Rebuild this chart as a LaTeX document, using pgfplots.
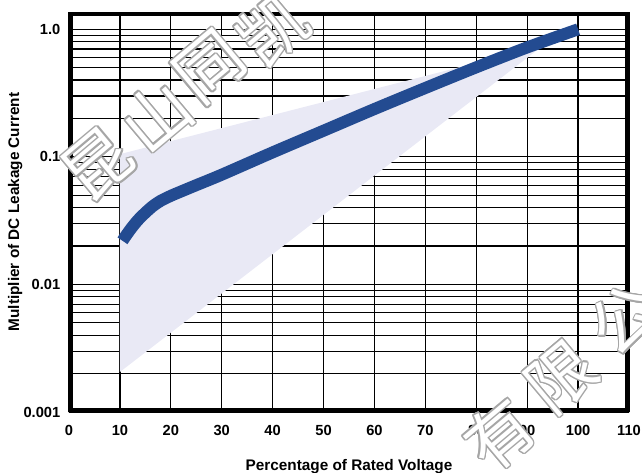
\documentclass[border=0pt]{standalone}
\usepackage{fontspec}
\setmainfont{Liberation Sans}
\newfontfamily\cjk{Noto Sans CJK SC}
\usepackage[copies]{contour}
\contourlength{1.1pt}
\contournumber{12}
\usepackage{pgfplots}
\pgfplotsset{compat=1.18}
\definecolor{curveblue}{RGB}{35,75,145}
\definecolor{lav}{RGB}{233,233,245}
\newcommand{\wm}[1]{{\cjk\color{white}\contour{gray!70}{#1}}}
\begin{document}
\begin{tikzpicture}
\begin{axis}[
  at={(0,0)}, anchor=south west,
  scale only axis, width=420pt, height=300pt,
  xmin=0, xmax=110, ymode=log, ymin=0.001, ymax=1.366,
  xtick={0,10,...,110},
  xticklabels={0,10,20,30,40,50,60,70,80,90,100,110},
  ytick={0.001,0.01,0.1,1},
  yticklabels={0.001,0.01,0.1,1.0},
  major tick length=0pt, minor tick length=0pt,
  xmajorgrids, ymajorgrids, yminorgrids,
  grid style={black, line width=0.9pt},
  minor grid style={black, line width=0.9pt},
  axis line style={draw=none},
  tick label style={font=\fontsize{11}{12}\selectfont\bfseries},
  xticklabel style={yshift=-6.5pt},
  yticklabel style={xshift=-3pt},
  xlabel={Percentage of Rated Voltage},
  ylabel={Multiplier of DC Leakage Current},
  label style={font=\fontsize{11.5}{13}\selectfont\bfseries},
  xlabel style={yshift=-11pt},
  ylabel style={yshift=-6pt},
]
\addplot[fill=lav, draw=none] coordinates {(10,0.00206) (10,0.105) (93,0.74)} -- cycle;
\addplot[curveblue, line width=9pt, smooth, tension=0.5, line cap=butt] coordinates {
 (10.5,0.022) (12,0.0268) (13.5,0.0318) (15,0.0365) (16.5,0.0412) (18,0.0452)
 (20,0.0495) (22,0.0535) (25,0.0600) (30,0.0725) (40,0.1084) (50,0.1603)
 (60,0.2371) (70,0.3467) (80,0.5035) (90,0.7211) (100,1.0)};
\draw[line width=5.5pt, line join=miter] (rel axis cs:0,0) rectangle (rel axis cs:1,1);
\end{axis}
\begin{scope}[every node/.style={font=\fontsize{50}{50}\selectfont, inner sep=0pt, rotate=40}]
\node at (21.75pt,185.25pt) {\wm{昆}};
\node at (66pt,221.25pt) {\wm{山}};
\node at (105.75pt,258pt) {\wm{同}};
\node at (153pt,286.5pt) {\wm{凯}};
\node at (323.25pt,-17.25pt) {\wm{有}};
\node at (369.75pt,25.5pt) {\wm{限}};
\node at (417pt,69pt) {\wm{公}};
\end{scope}
\pgfresetboundingbox
\useasboundingbox (-51.75pt,-45pt) rectangle (429.75pt,309pt);
\end{tikzpicture}
\end{document}
